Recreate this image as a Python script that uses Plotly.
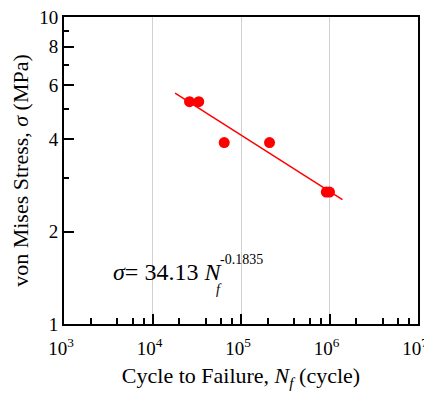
import plotly.graph_objects as go
import numpy as np

# Data
cycles = [26200, 33300, 64600, 210000, 920000, 1000000]
stress = [5.30, 5.30, 3.90, 3.90, 2.69, 2.69]

# Fit: sigma = A * N^b
fit_A = 34.13
fit_b = -0.1835
fit_range = [18000, 1.4e6]

x_ticks = [1e3, 1e4, 1e5, 1e6, 1e7]
x_ticktext = ["10<sup>3</sup>", "10<sup>4</sup>", "10<sup>5</sup>", "10<sup>6</sup>", "10<sup>7</sup>"]
x_minor = [m * 10**d for d in range(3, 7) for m in (2, 4, 6, 8)]
y_ticks = [1, 2, 4, 6, 8, 10]
y_ticktext = ["1", "2", "4", "6", "8", "10"]
y_minor = [3, 5, 7, 9]

FONT = "Liberation Serif"
RED = "#ff0000"

fit_x = np.logspace(np.log10(fit_range[0]), np.log10(fit_range[1]), 50)
fit_y = fit_A * fit_x ** fit_b

fig = go.Figure()
fig.add_trace(go.Scatter(x=fit_x, y=fit_y, mode="lines",
                         line=dict(color=RED, width=1.5), showlegend=False, hoverinfo="skip"))
fig.add_trace(go.Scatter(x=cycles, y=stress, mode="markers",
                         marker=dict(color=RED, size=11), showlegend=False))

def px_x(px):
    return 3 + (px - 64.5) / 88.5

def px_y(py):
    return (324 - py) / 307

# equation annotation
fig.add_annotation(x=px_x(111), y=px_y(272), xref="x", yref="y", xanchor="left", yanchor="middle",
                   text="<i>σ</i>= 34.13 <i>N</i>", showarrow=False,
                   font=dict(family=FONT, size=24, color="black"))
fig.add_annotation(x=px_x(218), y=px_y(259), xref="x", yref="y",
                   xanchor="left", yanchor="middle", text="-0.1835", showarrow=False,
                   font=dict(family=FONT, size=14, color="black"))
fig.add_annotation(x=px_x(214), y=px_y(289), xref="x", yref="y",
                   xanchor="left", yanchor="middle", text="<i>f</i>", showarrow=False,
                   font=dict(family=FONT, size=14, color="black"))

axis_common = dict(
    type="log", tickmode="array",
    ticks="inside", ticklen=10, tickwidth=2, tickcolor="black",
    showline=True, linecolor="black", linewidth=2, mirror=True,
    zeroline=False, automargin=False, ticklabeloverflow="allow",
    tickfont=dict(family=FONT, size=19, color="black"),
)

# the page body adds an 8px offset; size the figure so the plot area lands in place
fig.update_layout(
    width=440, height=386,
    margin=dict(l=56, r=30, t=9, b=70),
    paper_bgcolor="white", plot_bgcolor="white",
    font=dict(family=FONT, size=18, color="black"),
    xaxis=dict(axis_common, range=[3, 7], tickvals=x_ticks, ticktext=x_ticktext,
               showgrid=True, gridcolor="#d0d0d0", gridwidth=1, ticklabelstandoff=6,
               ticklabelshift=-3,
               minor=dict(tickmode="array", tickvals=x_minor, ticks="inside",
                          ticklen=6, tickwidth=2, tickcolor="black", showgrid=False),
               title=dict(text="Cycle to Failure, <i>N</i><sub><i>f</i></sub> (cycle)",
                          font=dict(family=FONT, size=22, color="black"), standoff=10)),
    yaxis=dict(axis_common, range=[0, 1], tickvals=y_ticks, ticktext=y_ticktext,
               showgrid=False,
               minor=dict(tickmode="array", tickvals=y_minor, ticks="inside",
                          ticklen=5, tickwidth=2, tickcolor="black", showgrid=False),
               title=dict(text="von Mises Stress, <i>σ</i> (MPa)",
                          font=dict(family=FONT, size=22, color="black"), standoff=13)),
)

fig.write_html("out.html")
